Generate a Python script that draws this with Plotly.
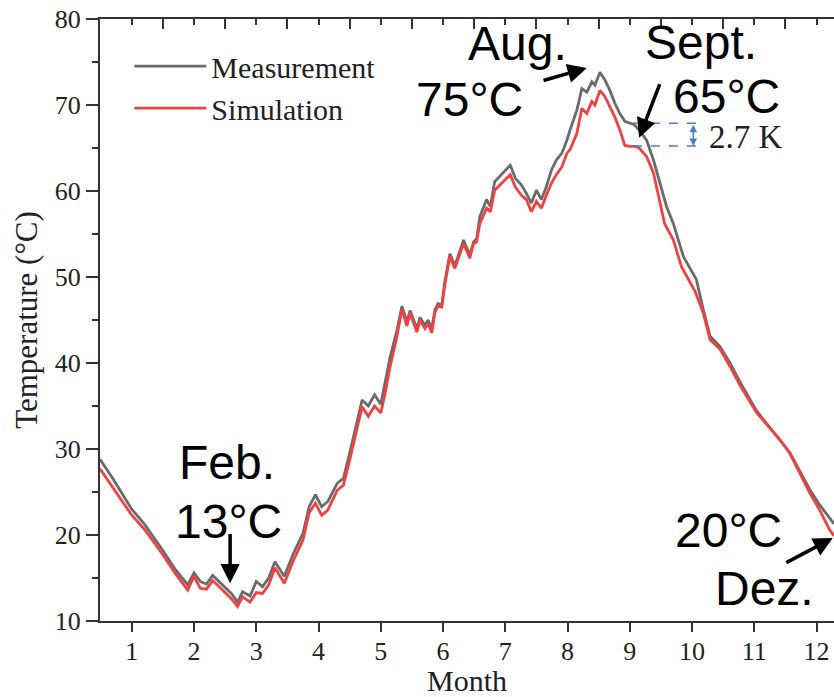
import plotly.graph_objects as go

# ---- data ----
meas_month = [0.49, 0.7, 1.0, 1.2, 1.5, 1.7, 1.9, 2.0, 2.1, 2.2, 2.3, 2.4, 2.5, 2.6, 2.7, 2.78, 2.9, 3.0,
              3.1, 3.2, 3.3, 3.45, 3.6, 3.75, 3.85, 3.95, 4.05, 4.15, 4.3, 4.4, 4.5, 4.6, 4.7, 4.8, 4.9,
              5.0, 5.07, 5.15, 5.26, 5.34, 5.42, 5.47, 5.58, 5.63, 5.71, 5.76, 5.82, 5.87, 5.92, 5.98,
              6.03, 6.11, 6.19, 6.33, 6.43, 6.49, 6.54, 6.59, 6.70, 6.76, 6.83, 6.97, 7.08, 7.16, 7.26,
              7.34, 7.42, 7.50, 7.58, 7.66, 7.74, 7.82, 7.91, 7.99, 8.04, 8.15, 8.23, 8.31, 8.39, 8.44,
              8.52, 8.60, 8.68, 8.76, 8.84, 8.92, 9.0, 9.07, 9.15, 9.27, 9.38, 9.48, 9.59, 9.70, 9.86,
              10.07, 10.18, 10.29, 10.45, 10.61, 10.77, 11.04, 11.41, 11.57, 11.89, 12.05, 12.28]
meas_temp = [28.8, 26.5, 23.0, 21.3, 18.2, 16.0, 14.2, 15.6, 14.6, 14.3, 15.3, 14.6, 14.0, 13.2, 12.2, 13.4,
             12.9, 14.6, 14.0, 15.0, 16.9, 15.2, 17.9, 20.2, 23.3, 24.7, 23.3, 23.9, 26.0, 26.6, 29.5, 32.5,
             35.7, 35.0, 36.3, 35.2, 37.7, 40.7, 43.8, 46.6, 44.8, 46.1, 44.0, 45.3, 44.4, 45.0, 44.0, 46.2,
             46.9, 46.7, 49.5, 52.7, 51.3, 54.3, 52.5, 54.1, 54.4, 57.0, 59.0, 58.2, 61.1, 62.2, 63.0, 61.5,
             60.7, 59.7, 58.6, 60.1, 59.0, 60.5, 62.4, 63.6, 64.4, 65.9, 67.1, 69.4, 71.9, 71.5, 72.7, 72.3,
             73.8, 72.9, 71.7, 70.2, 69.0, 68.1, 67.9, 67.7, 67.1, 65.9, 63.6, 60.9, 58.2, 56.2, 52.4,
             49.7, 46.2, 43.1, 41.9, 40.0, 37.8, 34.4, 31.1, 29.6, 25.3, 23.5, 21.3]

sim_month = [0.49, 0.7, 1.0, 1.2, 1.5, 1.7, 1.9, 2.0, 2.1, 2.2, 2.3, 2.4, 2.5, 2.6, 2.7, 2.78, 2.9, 3.0,
             3.1, 3.2, 3.3, 3.45, 3.6, 3.75, 3.85, 3.95, 4.05, 4.15, 4.3, 4.4, 4.5, 4.6, 4.7, 4.8, 4.9,
             5.0, 5.07, 5.15, 5.26, 5.34, 5.42, 5.47, 5.58, 5.63, 5.71, 5.76, 5.82, 5.87, 5.92, 5.98,
             6.03, 6.11, 6.19, 6.33, 6.43, 6.49, 6.54, 6.59, 6.70, 6.76, 6.83, 6.97, 7.08, 7.16, 7.26,
             7.34, 7.42, 7.50, 7.58, 7.66, 7.74, 7.82, 7.91, 7.99, 8.04, 8.15, 8.23, 8.31, 8.39, 8.44,
             8.52, 8.60, 8.68, 8.76, 8.84, 8.92, 9.0, 9.07, 9.15, 9.27, 9.38, 9.43, 9.56, 9.70, 9.83,
             10.05, 10.18, 10.29, 10.45, 10.61, 10.77, 11.04, 11.41, 11.57, 11.89, 12.05, 12.21, 12.28]
sim_temp = [27.7, 25.5, 22.3, 20.7, 17.7, 15.5, 13.6, 15.2, 13.8, 13.7, 14.7, 14.0, 13.3, 12.6, 11.7, 12.8,
            12.2, 13.3, 13.2, 14.2, 16.2, 14.4, 17.1, 19.4, 22.6, 23.7, 22.3, 22.9, 25.2, 25.8, 28.7, 31.8,
            34.9, 33.8, 35.0, 34.2, 36.5, 39.6, 43.1, 46.2, 44.3, 45.8, 43.6, 45.0, 44.0, 44.6, 43.5, 45.9,
            46.6, 46.5, 49.2, 52.4, 51.0, 53.9, 52.2, 53.9, 54.1, 56.2, 58.0, 57.6, 60.1, 61.1, 61.9, 60.5,
            59.5, 59.0, 57.6, 58.8, 58.0, 59.5, 60.9, 61.9, 62.8, 64.4, 64.8, 66.7, 69.6, 69.0, 70.4, 70.0,
            71.7, 71.0, 69.8, 68.6, 67.1, 65.3, 65.2, 65.2, 65.0, 64.0, 62.1, 60.5, 56.2, 54.3, 51.2,
            48.3, 45.8, 42.7, 41.6, 39.6, 37.4, 34.2, 31.1, 29.5, 24.9, 22.9, 20.6, 19.9]

x_ticks = list(range(1, 13))
y_ticks = [10, 20, 30, 40, 50, 60, 70, 80]

gap_top = 67.87
gap_bottom = 65.23
gap_label = "2.7 K"

SERIF = "Liberation Serif"
SANS = "Liberation Sans"

fig = go.Figure()
fig.add_trace(go.Scatter(x=meas_month, y=meas_temp, mode="lines", name="Measurement",
                         line=dict(color="#6b6b6b", width=2.8)))
fig.add_trace(go.Scatter(x=sim_month, y=sim_temp, mode="lines", name="Simulation",
                         line=dict(color="#ef4242", width=2.8)))

# dashed gap markers
for yv in (gap_top, gap_bottom):
    fig.add_trace(go.Scatter(x=[9.05, 10.08], y=[yv, yv], mode="lines", showlegend=False,
                             line=dict(color="#4a7fc4", width=1.5, dash="dash"), hoverinfo="skip"))

annotations = []
def txt(x, y, s, size=48, font=SANS, xanchor="center", color="black", height=None):
    a = dict(x=x, y=y, xref="x", yref="y", text=s, showarrow=False,
             xanchor=xanchor, yanchor="middle", valign="middle",
             font=dict(family=font, size=size, color=color))
    if height is not None:
        a["height"] = height
    annotations.append(a)

def arrow(x, y, ax, ay, color="black", width=3.5, head=2, size=1.1, side="end"):
    annotations.append(dict(x=x, y=y, ax=ax, ay=ay, xref="x", yref="y", axref="x", ayref="y",
                            text="", showarrow=True, arrowhead=head, arrowsize=size,
                            arrowwidth=width, arrowcolor=color, arrowside=side,
                            startarrowhead=head, startarrowsize=size))

txt(7.19, 77.2, "Aug.")
txt(6.43, 70.6, "75°C")
txt(10.14, 77.3, "Sept.")
txt(10.55, 71.0, "65°C", height=44)
txt(10.24, 66.3, gap_label, size=33, font=SERIF, xanchor="left", color="#222222", height=30)
txt(2.53, 28.4, "Feb.")
txt(2.56, 21.6, "13°C")
txt(10.58, 20.5, "20°C")
txt(11.17, 13.8, "Dez.")

arrow(8.31, 74.3, 7.59, 72.8)
arrow(9.15, 66.2, 9.49, 72.6)
arrow(2.58, 14.4, 2.58, 20.3)
arrow(12.26, 19.65, 11.49, 16.7)
arrow(10.02, gap_bottom, 10.02, gap_top, color="#4a7fc4", width=1.5, head=2, size=1.0, side="end+start")

fig.update_layout(
    width=834, height=697,
    margin=dict(l=100, r=0, t=19, b=76),
    paper_bgcolor="white", plot_bgcolor="white",
    showlegend=True,
    legend=dict(x=0.04, y=0.965, xanchor="left", yanchor="top",
                font=dict(family=SERIF, size=30, color="#222222"),
                bgcolor="rgba(0,0,0,0)", tracegroupgap=0, itemwidth=72),
    annotations=annotations,
    xaxis=dict(range=[0.49, 12.28], tickvals=x_ticks, ticks="outside", ticklen=9, tickwidth=2,
               tickcolor="#333", showline=True, linecolor="#333", linewidth=2, showgrid=False,
               zeroline=False, tickfont=dict(family=SERIF, size=26, color="#222"),
               ticklabelstandoff=-3,
               title=dict(text="Month", font=dict(family=SERIF, size=30, color="#222"), standoff=2)),
    xaxis2=dict(range=[0.49, 12.28], overlaying="x", side="top", tickvals=[v + 0.5 for v in range(0, 12)],
                ticks="inside", ticklen=10, tickwidth=2, tickcolor="#333", showticklabels=False,
                showline=True, linecolor="#333", linewidth=2, showgrid=False, zeroline=False,
                minor=dict(tickvals=x_ticks, ticks="inside", ticklen=6, tickwidth=2, tickcolor="#333")),
    yaxis=dict(range=[10, 80], tickvals=y_ticks, ticks="outside", ticklen=12, tickwidth=2,
               tickcolor="#333", showline=True, linecolor="#333", linewidth=2, showgrid=False,
               zeroline=False, tickfont=dict(family=SERIF, size=26, color="#222"),
               minor=dict(tickvals=[15, 25, 35, 45, 55, 65, 75], ticks="outside", ticklen=6,
                          tickwidth=2, tickcolor="#333"),
               title=dict(text="Temperature (°C)", font=dict(family=SERIF, size=31, color="#222"),
                          standoff=8)),
)
# invisible point so the top axis is drawn
fig.add_trace(go.Scatter(x=[1], y=[10], xaxis="x2", mode="markers", marker=dict(opacity=0),
                         showlegend=False, hoverinfo="skip"))

fig.write_html("out.html")
